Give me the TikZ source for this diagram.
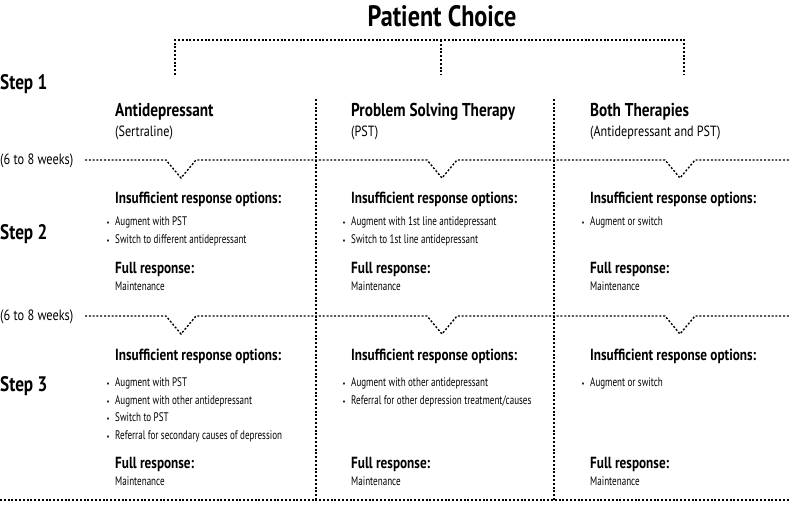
\documentclass[tikz,border=0pt]{standalone}
\usepackage{fontspec}
\setmainfont{PT Sans}[FakeStretch=0.82]
\newfontfamily\itemfont{PT Sans}[FakeStretch=0.73]
\begin{document}
\begin{tikzpicture}[x=1pt,y=-1pt,
  dotln/.style={line width=1.4pt, dash pattern=on 2pt off 1.8pt},
  titletxt/.style={font=\fontsize{29.5}{31}\selectfont\bfseries, anchor=base, inner sep=0},
  steplbl/.style={font=\fontsize{21}{23}\selectfont\bfseries, anchor=base west, inner sep=0},
  colhead/.style={font=\fontsize{18.6}{20}\selectfont\bfseries, anchor=base west, inner sep=0},
  colsub/.style={font=\fontsize{14.8}{16}\selectfont, anchor=base west, inner sep=0},
  weeks/.style={font=\fontsize{15}{16}\selectfont, anchor=base west, inner sep=0},
  subhead/.style={font=\fontsize{16.1}{17}\selectfont\bfseries, anchor=base west, inner sep=0},
  itemtxt/.style={font=\itemfont\fontsize{12.4}{14}\selectfont, anchor=base west, inner sep=0},
  bul/.style={font=\fontsize{8}{9}\selectfont, anchor=base, inner sep=0},
]
\useasboundingbox (0,0) rectangle (789,508);

% title and bracket
\node[titletxt] (title) at (442,27) {Patient Choice};
\coordinate (bl) at (175,40); \coordinate (bm) at (441,40); \coordinate (br) at (684,40);
\coordinate (blb) at (175,75); \coordinate (bmb) at (441,75); \coordinate (brb) at (684,75);
\draw[dotln] (blb) -- (bl) -- (br) -- (brb);
\draw[dotln] (bm) -- (bmb);

% step labels
\node[steplbl] (s1) at (0,90) {Step 1};
\node[steplbl] (s2) at (0,239) {Step 2};
\node[steplbl] (s3) at (0,391) {Step 3};
\node[weeks] (wk1) at (0,164) {(6 to 8 weeks)};
\node[weeks] (wk2) at (0,320) {(6 to 8 weeks)};

% column dividers
\coordinate (d1t) at (316,99); \coordinate (d1b) at (316,500);
\coordinate (d2t) at (554,99); \coordinate (d2b) at (554,500);
\draw[dotln] (d1t) -- (d1b);
\draw[dotln] (d2t) -- (d2b);

% weeks lines with notches
\coordinate (l1s) at (85,160); \coordinate (l1e) at (789,160);
\draw[dotln] (l1s) -- (166,160) -- (181,178) -- (196,160) -- (427,160) -- (442,178) -- (457,160) -- (665,160) -- (680,178) -- (695,160) -- (l1e);
\coordinate (l2s) at (85,316); \coordinate (l2e) at (789,316);
\draw[dotln] (l2s) -- (166,316) -- (181,334) -- (196,316) -- (427,316) -- (442,334) -- (457,316) -- (665,316) -- (680,334) -- (695,316) -- (l2e);
\coordinate (l3s) at (0,500); \coordinate (l3e) at (789,500);
\draw[dotln] (l3s) -- (l3e);

% column headers
\node[colhead] (h1) at (115,117) {Antidepressant};
\node[colsub] (h1s) at (115,136) {(Sertraline)};
\node[colhead] (h2) at (351,117) {Problem Solving Therapy};
\node[colsub] (h2s) at (351,136) {(PST)};
\node[colhead] (h3) at (590,117) {Both Therapies};
\node[colsub] (h3s) at (590,136) {(Antidepressant and PST)};

% section headings
\foreach \cx/\nm in {115/a,351/b,590/c}{
  \node[subhead] (ins2\nm) at (\cx,203) {Insufficient response options:};
  \node[subhead] (full2\nm) at (\cx,273) {Full response:};
  \node[itemtxt] (main2\nm) at (\cx,290) {Maintenance};
  \node[subhead] (ins3\nm) at (\cx,360) {Insufficient response options:};
  \node[subhead] (full3\nm) at (\cx,468) {Full response:};
  \node[itemtxt] (main3\nm) at (\cx,485) {Maintenance};
}
% step 2 bullets
\node[bul] at (108,225) {•}; \node[itemtxt] (i2a1) at (115,225) {Augment with PST};
\node[bul] at (108,243) {•}; \node[itemtxt] (i2a2) at (115,243) {Switch to different antidepressant};
\node[bul] at (344,225) {•}; \node[itemtxt] (i2b1) at (351,225) {Augment with 1st line antidepressant};
\node[bul] at (344,243) {•}; \node[itemtxt] (i2b2) at (351,243) {Switch to 1st line antidepressant};
\node[bul] at (583,225) {•}; \node[itemtxt] (i2c1) at (590,225) {Augment or switch};
% step 3 bullets
\node[bul] at (108,386) {•}; \node[itemtxt] (i3a1) at (115,386) {Augment with PST};
\node[bul] at (108,404) {•}; \node[itemtxt] (i3a2) at (115,404) {Augment with other antidepressant};
\node[bul] at (108,421) {•}; \node[itemtxt] (i3a3) at (115,421) {Switch to PST};
\node[bul] at (108,439) {•}; \node[itemtxt] (i3a4) at (115,439) {Referral for secondary causes of depression};
\node[bul] at (344,386) {•}; \node[itemtxt] (i3b1) at (351,386) {Augment with other antidepressant};
\node[bul] at (344,404) {•}; \node[itemtxt] (i3b2) at (351,404) {Referral for other depression treatment/causes};
\node[bul] at (583,386) {•}; \node[itemtxt] (i3c1) at (590,386) {Augment or switch};
\end{tikzpicture}
\end{document}
